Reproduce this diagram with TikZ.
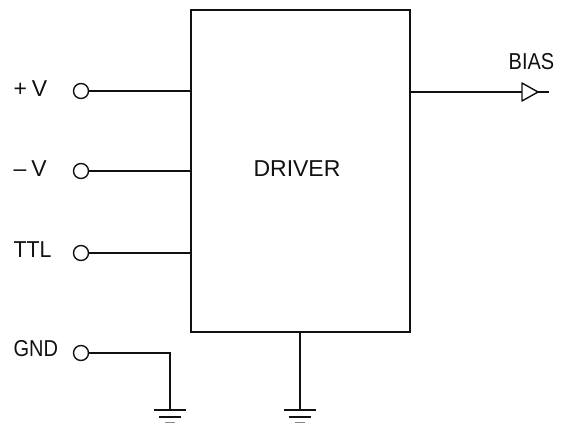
\documentclass[tikz,border=0pt]{standalone}
\usepackage{fontspec}
\setmainfont{Liberation Sans}
\usetikzlibrary{calc}
\definecolor{color_driver_line}{HTML}{111111}
\def\driverlinewidth{1.1pt}
\def\driverlabelsize{\fontsize{23}{23}\selectfont}
\def\gndsym(#1){
    \draw[line width=1.3pt] ($(#1)+(-16,0)$) -- ($(#1)+(16,0)$);
    \draw[line width=1.3pt] ($(#1)+(-11,7)$) -- ($(#1)+(11,7)$);
    \draw[line width=0.8pt,color_driver_line!50] ($(#1)+(-5,12.5)$) -- ($(#1)+(5,12.5)$);
}
\tikzset{
    terminal/.style={draw,circle,inner sep=0pt,minimum size=15pt,line width=1.4pt},
    label_text/.style={inner sep=0pt,font=\driverlabelsize},
}
\begin{document}
\begin{tikzpicture}[x=1pt,y=-1pt,color=color_driver_line,line width=\driverlinewidth]
        \useasboundingbox (0,0) rectangle (565,423);
        \node[draw,inner sep=0pt,minimum width=219pt,minimum height=322pt,line width=1.3pt] (driver) at (300.5,171) {};
        \node[label_text] (driver_text) at (297,169) {DRIVER};
        % input terminals
        \foreach \name/\txt/\sx/\y/\ty in {vplus/+\hspace{5pt}V/1/91/88.5,vminus/--\hspace{5pt}V/1/171/168.5,ttl/TTL/0.93/253/250}{
            \node[terminal] (\name) at (81,\y) {};
            \node[label_text,anchor=west] (\name_text) at (13,\ty) {\scalebox{\sx}[1]{\txt}};
            \draw (\name.east) -- (\name.east -| driver.west);
        }
        \node[terminal] (gnd) at (81,353) {};
        \node[label_text,anchor=west] (gnd_text) at (13,349) {\scalebox{0.87}[1]{GND}};
        % grounds
        \coordinate (gnd_a) at (170,410);
        \coordinate (gnd_b) at (300,410);
        \draw (gnd.east) -| (gnd_a);
        \draw (driver.south -| gnd_b) -- (gnd_b);
        \gndsym(gnd_a)
        \gndsym(gnd_b)
        % output
        \coordinate (bias_tip) at (538,92);
        \coordinate (bias_end) at (549,92);
        \node[label_text] (bias_text) at (531.5,61.5) {\scalebox{0.87}[1]{BIAS}};
        \draw (driver.east |- bias_tip) -- (bias_end);
        \draw[line width=1.4pt,fill=white,line join=round] (522,83) -- (bias_tip) -- (522,101) -- cycle;
    \end{tikzpicture}
\end{document}
